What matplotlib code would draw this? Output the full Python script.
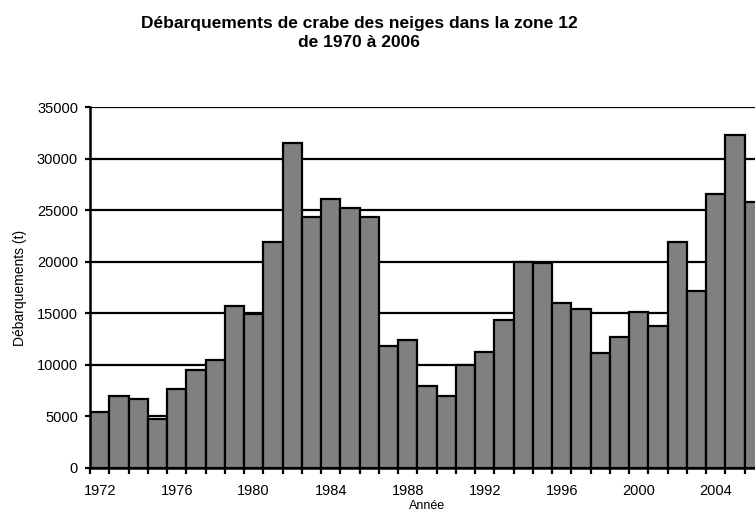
import matplotlib
matplotlib.use("Agg")
import matplotlib.pyplot as plt
import numpy as np

# Landings of snow crab, zone 12 (tonnes)
years = list(range(1972, 2007))
landings = [5400, 7000, 6700, 4700, 7600, 9500, 10450, 15750, 14900,
            21900, 31550, 24350, 26100, 25200, 24300, 11800, 12400, 7900,
            7000, 10000, 11200, 14350, 20000, 19900, 16000, 15450, 11150,
            12700, 15100, 13800, 21900, 17150, 26600, 32350, 25850]
label_years = [1972, 1976, 1980, 1984, 1988, 1992, 1996, 2000, 2004]
y_ticks = [0, 5000, 10000, 15000, 20000, 25000, 30000, 35000]

title = "Débarquements de crabe des neiges dans la zone 12\nde 1970 à 2006"
xlabel = "Année"
ylabel = "Débarquements (t)"

plt.rcParams['font.family'] = ['Liberation Sans', 'DejaVu Sans']

W, H = 755, 523
fig = plt.figure(figsize=(W / 100, H / 100), dpi=100)
# axes runs past the right edge, as in the cropped original
ax = fig.add_axes([90 / W, 55.3 / H, 674 / W, 360.4 / H])

x = np.arange(len(years))
ax.bar(x, landings, width=1.0, color='#808080', edgecolor='black',
       linewidth=1.6, zorder=3)

ax.set_xlim(-0.5, len(years) - 0.5)
ax.set_ylim(0, 35000)
ax.set_yticks(y_ticks)
ax.set_yticklabels([str(v) for v in y_ticks], fontsize=10.5)
ax.yaxis.grid(True, color='black', linewidth=1.6, zorder=0)

# ticks on bar boundaries, labels centred under every 4th bar
ax.set_xticks(np.arange(len(years) + 1) - 0.5)
ax.set_xticklabels([])
ax.set_xticks([years.index(y) for y in label_years], minor=True)
ax.set_xticklabels([str(y) for y in label_years], minor=True, fontsize=10.5)
ax.tick_params(axis='x', which='major', direction='out', length=4, width=1.6)
ax.tick_params(axis='x', which='minor', length=0, pad=12)
ax.tick_params(axis='y', direction='out', length=3.6, width=1.6, pad=5)

for s in ['top', 'right']:
    ax.spines[s].set_visible(False)
for s in ['left', 'bottom']:
    ax.spines[s].set_linewidth(1.8)
    ax.spines[s].set_zorder(4)

ax.set_xlabel(xlabel, fontsize=9, labelpad=1.5)
ax.set_ylabel(ylabel, fontsize=10, labelpad=7)

fig.text(359 / W, 1 - 33 / H, title, ha='center', va='center',
         fontsize=12.5, fontweight='bold', linespacing=1.4)

fig.savefig('out.png', dpi=100)
